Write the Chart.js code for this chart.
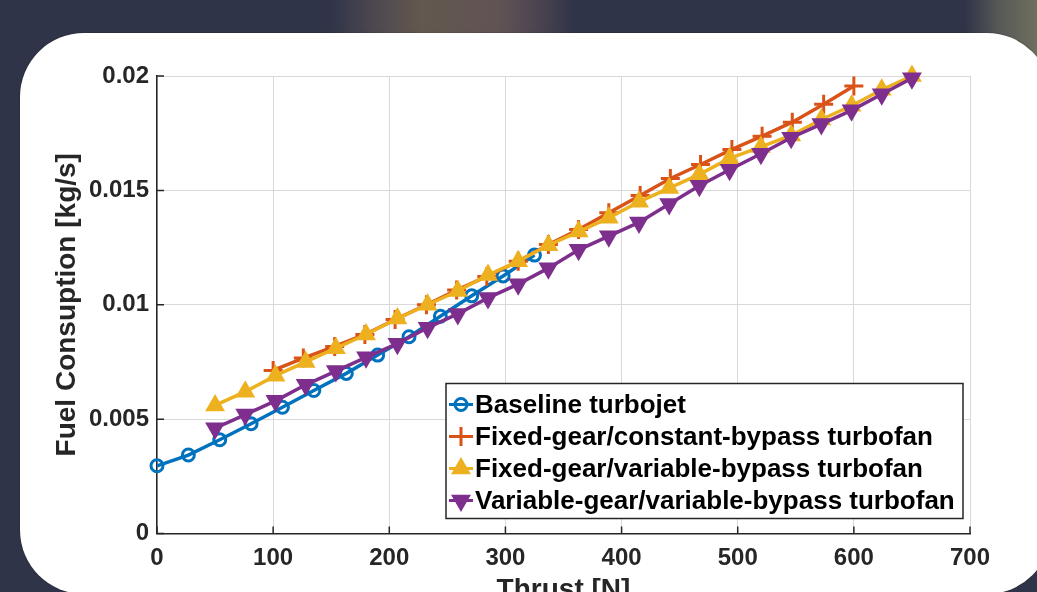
<!DOCTYPE html>
<html>
<head>
<meta charset="utf-8">
<title>Fuel consumption vs thrust</title>
<script src="https://cdn.jsdelivr.net/npm/chart.js@4.4.1/dist/chart.umd.min.js"></script>
<style>
    html, body { margin: 0; padding: 0; }
    body {
        width: 1037px; height: 592px; overflow: hidden; position: relative;
        background: #2f3448;
    }
    .glow {
        position: absolute; left: 0; top: 0; width: 1037px; height: 70px;
        background: linear-gradient(90deg, #2f3448 0, #2f3448 330px, #4b4650 370px, #63584f 420px,
            #605354 500px, #4a4350 540px, #2f3448 575px, #2f3448 965px, #585a57 1000px, #6e6f5f 1037px);
    }
    .card {
        position: absolute; left: 20px; top: 33px; width: 1031px; height: 561px;
        background: #fff; border-radius: 64px; box-shadow: 0 0 2px rgba(0,0,0,0.35);
    }
    #chart { position: absolute; left: 0; top: 0; }
</style>
</head>
<body>
<div class="glow"></div>
<div class="card"></div>
<canvas id="chart" width="1037" height="640"></canvas>
<script>
// ---- dados ----
const xTicks = [0, 100, 200, 300, 400, 500, 600, 700];
const yTicks = [0, 0.005, 0.01, 0.015, 0.02];

const labels = [
    'Baseline turbojet',
    'Fixed-gear/constant-bypass turbofan',
    'Fixed-gear/variable-bypass turbofan',
    'Variable-gear/variable-bypass turbofan'
];

const baseThrust = [0, 27, 54, 81, 108, 135, 163, 190, 217, 244, 271, 298, 325];
const baseFuel = [0.00296, 0.00343, 0.0041, 0.0048, 0.00552, 0.00625, 0.0070, 0.0078, 0.0086, 0.0095, 0.01039, 0.01126, 0.01217];

const fixConstThrust = [100, 126, 153, 179, 205, 232, 258, 284, 311, 337, 363, 389, 416, 442, 468, 495, 521, 547, 574, 600];
const fixConstFuel = [0.00713, 0.00767, 0.00818, 0.0087, 0.00935, 0.0100, 0.01064, 0.01124, 0.0119, 0.01263,
    0.01329, 0.01402, 0.01478, 0.01552, 0.01613, 0.01679, 0.01737, 0.01798, 0.01876, 0.01956];

const varThrust = [50, 76, 102, 128, 154, 180, 207, 233, 259, 285, 311, 337, 363, 389, 415, 441, 467, 493, 520, 546, 572, 598, 624, 650];
const fixVarFuel = [0.0056, 0.0062, 0.0069, 0.0075, 0.0081, 0.0087, 0.0094, 0.0100, 0.0106, 0.0113, 0.0119, 0.0126,
    0.0132, 0.0138, 0.0145, 0.0151, 0.0157, 0.0164, 0.0169, 0.0174, 0.0181, 0.0187, 0.0194, 0.0200];
const varVarFuel = [0.0046, 0.0052, 0.0058, 0.0065, 0.0071, 0.0077, 0.0083, 0.0090, 0.0096, 0.0103, 0.0109, 0.0116,
    0.0124, 0.0130, 0.0136, 0.0144, 0.0152, 0.0159, 0.0166, 0.0173, 0.0179, 0.0185, 0.0192, 0.0199];

const toPoints = (xs, ys) => xs.map((x, i) => ({ x: x, y: ys[i] }));
const FONT = "'Liberation Sans', Arial, Helvetica, sans-serif";
const AXIS = '#262626';

function serie(label, xs, ys, color, style, extra) {
    return Object.assign({
        label: label,
        data: toPoints(xs, ys),
        borderColor: color,
        backgroundColor: color,
        pointBorderColor: color,
        pointBackgroundColor: color,
        pointStyle: style,
        pointRadius: 8.5,
        pointHoverRadius: 8.5,
        pointBorderWidth: 3,
        borderWidth: 3.5,
        tension: 0,
        clip: false
    }, extra || {});
}

// ticks para dentro, estilo MATLAB
const inwardTicks = {
    id: 'inwardTicks',
    afterDraw(chart) {
        const { ctx, chartArea: a, scales: { x, y } } = chart;
        ctx.save();
        ctx.strokeStyle = AXIS;
        ctx.lineWidth = 1.5;
        ctx.beginPath();
        xTicks.forEach(v => {
            const px = x.getPixelForValue(v);
            ctx.moveTo(px, a.bottom); ctx.lineTo(px, a.bottom - 7);
        });
        yTicks.forEach(v => {
            const py = y.getPixelForValue(v);
            ctx.moveTo(a.left, py); ctx.lineTo(a.left + 7, py);
        });
        ctx.stroke();
        ctx.restore();
    }
};

// legenda dentro do gráfico (canto inferior direito)
const boxLegend = {
    id: 'boxLegend',
    afterDraw(chart) {
        const { ctx, chartArea: a } = chart;
        const w = 517, h = 135;
        const left = a.right - 7 - w, top = a.bottom - 15 - h;
        ctx.save();
        ctx.fillStyle = '#fff';
        ctx.fillRect(left, top, w, h);
        ctx.strokeStyle = AXIS;
        ctx.lineWidth = 1.5;
        ctx.strokeRect(left, top, w, h);

        ctx.font = 'bold 26px ' + FONT;
        ctx.textBaseline = 'middle';
        chart.data.datasets.forEach((ds, i) => {
            const cy = top + 21 + i * 32;
            ctx.strokeStyle = ds.borderColor;
            ctx.lineWidth = 3;
            ctx.beginPath();
            ctx.moveTo(left + 3, cy); ctx.lineTo(left + 27, cy);
            ctx.stroke();
            ctx.fillStyle = ds.pointBackgroundColor;
            ctx.lineWidth = ds.pointBorderWidth;
            Chart.helpers.drawPoint(ctx, {
                pointStyle: ds.pointStyle, rotation: ds.pointRotation || 0,
                radius: ds.pointRadius, borderWidth: ds.pointBorderWidth
            }, left + 15, cy);
            ctx.fillStyle = '#000';
            ctx.fillText(ds.label, left + 29, cy + 1);
        });
        ctx.restore();
    }
};

const fmt = v => String(+Number(v).toFixed(3));

new Chart(document.getElementById('chart'), {
    type: 'line',
    data: {
        datasets: [
            serie(labels[0], baseThrust, baseFuel, '#0072BD', 'circle',
                { pointBackgroundColor: 'rgba(0,0,0,0)', pointRadius: 6, order: 4 }),
            serie(labels[1], fixConstThrust, fixConstFuel, '#D95319', 'cross', { pointRadius: 9.5, order: 3 }),
            serie(labels[2], varThrust, fixVarFuel, '#EDB120', 'triangle', { order: 2 }),
            serie(labels[3], varThrust, varVarFuel, '#7E2F8E', 'triangle', { pointRotation: 180, order: 1 })
        ]
    },
    options: {
        responsive: false,
        animation: false,
        events: [],
        layout: { padding: { left: 40, right: 67, top: 76, bottom: 0 } },
        plugins: { legend: { display: false }, tooltip: { enabled: false } },
        scales: {
            x: {
                type: 'linear',
                min: 0, max: 700,
                afterBuildTicks: s => { s.ticks = xTicks.map(v => ({ value: v })); },
                afterFit: s => { s.height = 106.5; },
                grid: { color: '#d9d9d9', lineWidth: 1, drawTicks: false },
                border: { color: AXIS, width: 1.5 },
                ticks: {
                    autoSkip: false, maxRotation: 0, padding: 10,
                    color: AXIS, font: { family: FONT, size: 24, weight: 'bold' },
                    callback: fmt
                },
                title: {
                    display: true, text: 'Thrust [N]', color: AXIS,
                    font: { family: FONT, size: 28, weight: 'bold' },
                    padding: { top: 0, bottom: 33 }
                }
            },
            y: {
                min: 0, max: 0.02,
                afterBuildTicks: s => { s.ticks = yTicks.map(v => ({ value: v })); },
                afterFit: s => { s.width = 117; },
                grid: { color: '#d9d9d9', lineWidth: 1, drawTicks: false },
                border: { color: AXIS, width: 1.5 },
                ticks: {
                    autoSkip: false, padding: 8,
                    color: AXIS, font: { family: FONT, size: 24, weight: 'bold' },
                    callback: fmt
                },
                title: {
                    display: true, text: 'Fuel Consuption [kg/s]', color: AXIS,
                    font: { family: FONT, size: 28, weight: 'bold' },
                    padding: { top: 10, bottom: 0 }
                }
            }
        }
    },
    plugins: [inwardTicks, boxLegend]
});
</script>
</body>
</html>
